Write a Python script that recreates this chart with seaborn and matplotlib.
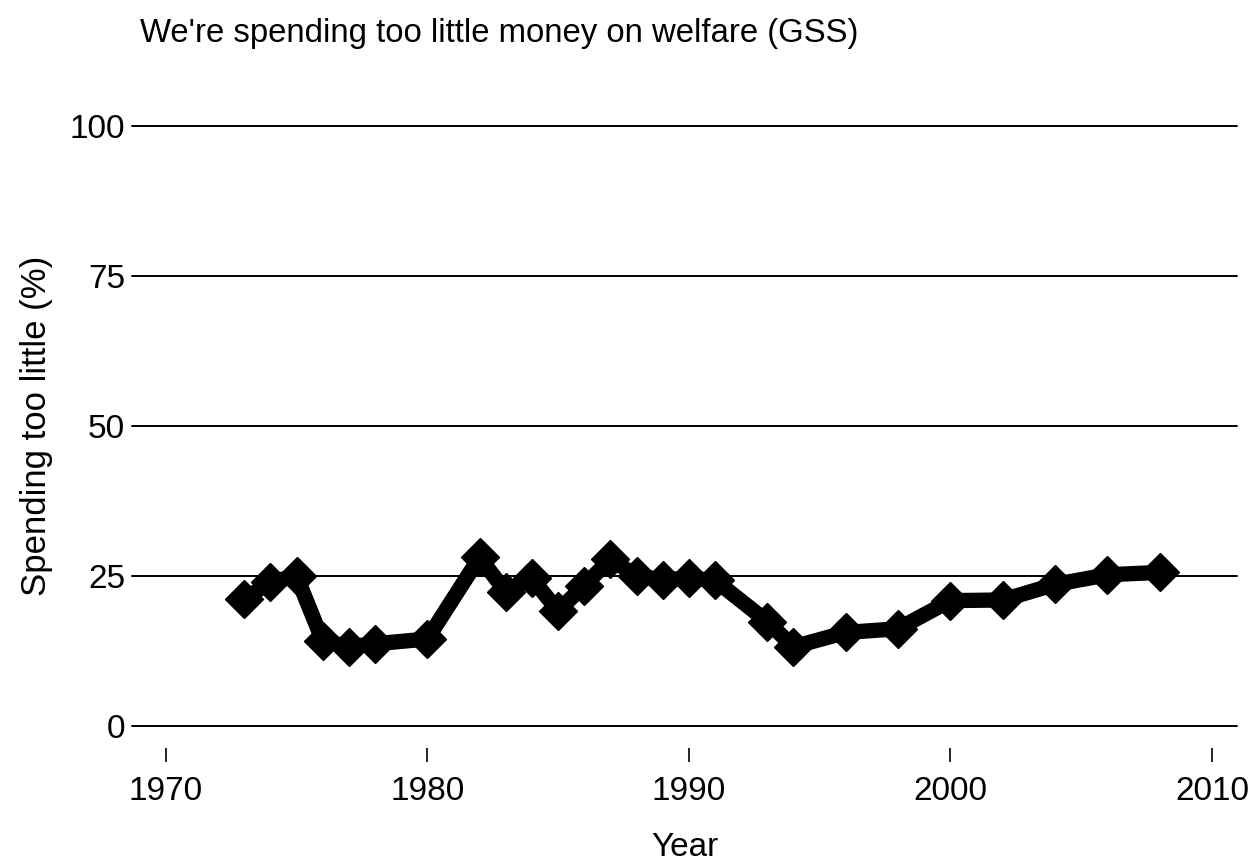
import matplotlib
matplotlib.use("Agg")
import matplotlib.pyplot as plt
import seaborn as sns
import pandas as pd

years = [1973, 1974, 1975, 1976, 1977, 1978, 1980, 1982, 1983, 1984, 1985, 1986,
         1987, 1988, 1989, 1990, 1991, 1993, 1994, 1996, 1998, 2000, 2002, 2004,
         2006, 2008]
pct_too_little = [21.1, 24.0, 25.0, 14.2, 13.2, 13.7, 14.5, 28.1, 22.4, 24.6, 19.2, 23.4,
                  27.8, 25.0, 24.4, 24.6, 24.3, 17.4, 13.2, 15.6, 16.2, 20.9, 21.0, 23.6,
                  25.2, 25.6]
y_ticks = [0, 25, 50, 75, 100]
x_ticks = [1970, 1980, 1990, 2000, 2010]

df = pd.DataFrame({"Year": years, "Pct": pct_too_little})

sns.set_style("white")
plt.rcParams["font.family"] = ["Liberation Sans", "DejaVu Sans"]
plt.rcParams["text.color"] = "black"
plt.rcParams["axes.labelcolor"] = "black"
plt.rcParams["xtick.color"] = "black"
plt.rcParams["ytick.color"] = "black"

fig = plt.figure(figsize=(12.58, 8.63), dpi=100)
ax = fig.add_axes([132 / 1258, 1 - 726 / 863, (1237 - 132) / 1258, 600 / 863])

for yt in y_ticks:
    ax.axhline(yt, color="black", lw=1.4, zorder=1, clip_on=False)

sns.lineplot(data=df, x="Year", y="Pct", ax=ax, color="black", lw=11,
             marker="D", markersize=19, markeredgecolor="black",
             markeredgewidth=1, zorder=3, clip_on=False)

ax.set_xlim(1968.71, 2010.96)
ax.set_ylim(0, 100)
ax.set_yticks(y_ticks)
ax.set_xticks(x_ticks)
for s in ax.spines.values():
    s.set_visible(False)
ax.spines["bottom"].set_position(("outward", 15.8))
ax.tick_params(axis="y", length=0, pad=5, labelsize=24, labelcolor="black")
ax.tick_params(axis="x", length=10, width=1.2, color="black", direction="out",
               pad=10, labelsize=24, bottom=True, labelcolor="black")
ax.set_xlabel("Year", fontsize=24, labelpad=18.5, color="black")
ax.set_ylabel("Spending too little (%)", fontsize=25, labelpad=12, color="black")
ax.grid(False)

fig.text(140 / 1258, 1 - 42 / 863, "We're spending too little money on welfare (GSS)",
         fontsize=23.7, ha="left", va="baseline", color="black")

fig.savefig("out.png", dpi=100)
